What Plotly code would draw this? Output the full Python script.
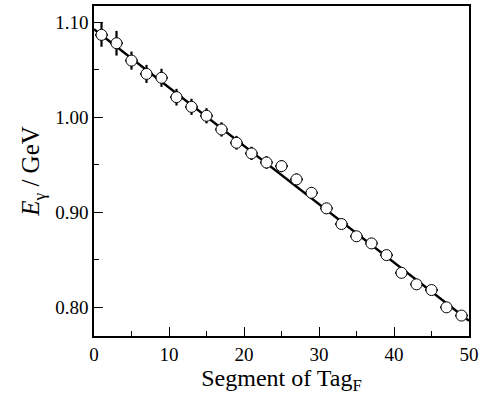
import plotly.graph_objects as go

segments = [1, 3, 5, 7, 9, 11, 13, 15, 17, 19, 21, 23, 25,
            27, 29, 31, 33, 35, 37, 39, 41, 43, 45, 47, 49]
energy = [1.0866, 1.0778, 1.0595, 1.0455, 1.0414, 1.0210, 1.0108, 1.0014,
          0.9870, 0.9730, 0.9618, 0.9522, 0.9484, 0.9344, 0.9203, 0.9039,
          0.8874, 0.8745, 0.8670, 0.8547, 0.8360, 0.8239, 0.8179, 0.7997, 0.7910]
energy_err = [0.0125, 0.0130, 0.0095, 0.0095, 0.0095, 0.0088, 0.0085, 0.0080,
              0.0075, 0.0072, 0.0070, 0.0066, 0.0064, 0.0062, 0.0060, 0.0058,
              0.0056, 0.0055, 0.0054, 0.0053, 0.0052, 0.0051, 0.0050, 0.0050, 0.0050]
segment_err = [0.85] * len(segments)

fit_x = [0, 50]
fit_y = [1.0925, 0.7855]

fig = go.Figure()
fig.add_trace(go.Scatter(
    x=fit_x, y=fit_y, mode="lines",
    line=dict(color="black", width=2.4), showlegend=False, hoverinfo="skip"))
fig.add_trace(go.Scatter(
    x=segments, y=energy, mode="markers",
    marker=dict(symbol="circle", size=11, color="white",
                line=dict(color="black", width=1)),
    error_y=dict(type="data", array=energy_err, color="black", thickness=2.2, width=0),
    error_x=dict(type="data", array=segment_err, color="black", thickness=2, width=0),
    showlegend=False))

font_family = "Liberation Serif"
fig.update_layout(
    width=496, height=398,
    margin=dict(l=94, r=27, t=6, b=62),
    paper_bgcolor="white", plot_bgcolor="white",
    font=dict(family=font_family, color="black", size=18),
    xaxis=dict(
        range=[0, 50], tickvals=[0, 10, 20, 30, 40, 50],
        ticks="inside", ticklen=9, tickwidth=1, tickcolor="black",
        minor=dict(ticks="inside", ticklen=5, dtick=5, tickcolor="black", tickwidth=1),
        showline=True, linecolor="black", linewidth=1.5, mirror=True,
        showgrid=False, zeroline=False, automargin=False,
        tickfont=dict(family=font_family, size=19),
        title=dict(text="Segment of Tag<sub>F</sub>", font=dict(family=font_family, size=24), standoff=6),
    ),
    yaxis=dict(
        range=[0.7695, 1.117], tickvals=[0.80, 0.90, 1.00, 1.10], tickformat=".2f",
        ticks="inside", ticklen=9, tickwidth=1, tickcolor="black",
        minor=dict(ticks="inside", ticklen=5, tickvals=[0.85, 0.95, 1.05],
                   tickcolor="black", tickwidth=1),
        showline=True, linecolor="black", linewidth=1.5, mirror=True,
        showgrid=False, zeroline=False, automargin=False,
        tickfont=dict(family=font_family, size=19),
        title=dict(text="<i>E</i><sub>γ</sub> / GeV", font=dict(family=font_family, size=25), standoff=8),
    ),
)

fig.write_html("out.html", config={"displayModeBar": False},
               post_script="document.body.style.margin='0';")
